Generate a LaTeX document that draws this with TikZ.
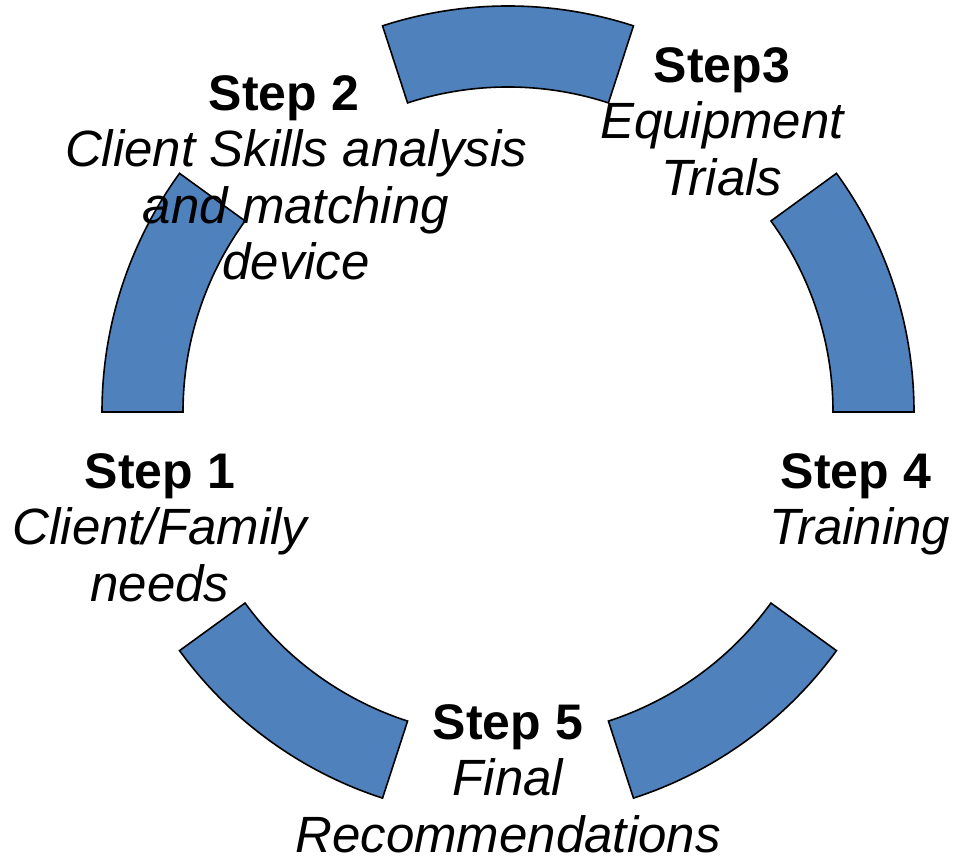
\documentclass[tikz,border=0pt]{standalone}
\usepackage{fontspec}
\setmainfont{Liberation Sans}
\definecolor{segblue}{RGB}{79,129,189}
\newcommand{\stepln}[1]{{\bfseries\fontsize{50}{56.5}\selectfont #1}}
\newcommand{\itln}[1]{{\itshape\fontsize{51}{56.5}\selectfont #1}}
\begin{document}
\begin{tikzpicture}[x=1pt,y=1pt,
  seg/.style={fill=segblue, draw=black, line width=1.6pt, line join=miter},
  lbl/.style={align=center, anchor=north, inner sep=0pt, font=\fontsize{50}{56.5}\selectfont}]
\useasboundingbox (0,0) rectangle (958,856);
\coordinate (c) at (508,444);
\foreach \a in {0,72,144,216,288}{
  \pgfmathsetmacro{\b}{\a+36}
  \draw[seg] ([shift={(\a:406)}]c) arc[start angle=\a, end angle=\b, radius=406]
    -- ([shift={(\b:325)}]c) arc[start angle=\b, end angle=\a, radius=325] -- cycle;
}
\node[lbl] (step2) at (296,781) {\stepln{Step 2}\hspace*{24pt}\\\itln{Client Skills analysis}\\\itln{and matching}\\\itln{device}};
\node[lbl] (step3) at (722,809) {\stepln{Step3}\\\itln{Equipment}\\\itln{Trials}};
\node[lbl] (step1) at (160,403) {\stepln{Step 1}\\\itln{Client/Family}\\\itln{needs}};
\node[lbl] (step4) at (860,403) {\stepln{Step 4}\hspace*{8pt}\\\itln{Training}};
\node[lbl] (step5) at (508,152) {\stepln{Step 5}\\\itln{Final}\\\itln{Recommendations}};
\end{tikzpicture}
\end{document}
